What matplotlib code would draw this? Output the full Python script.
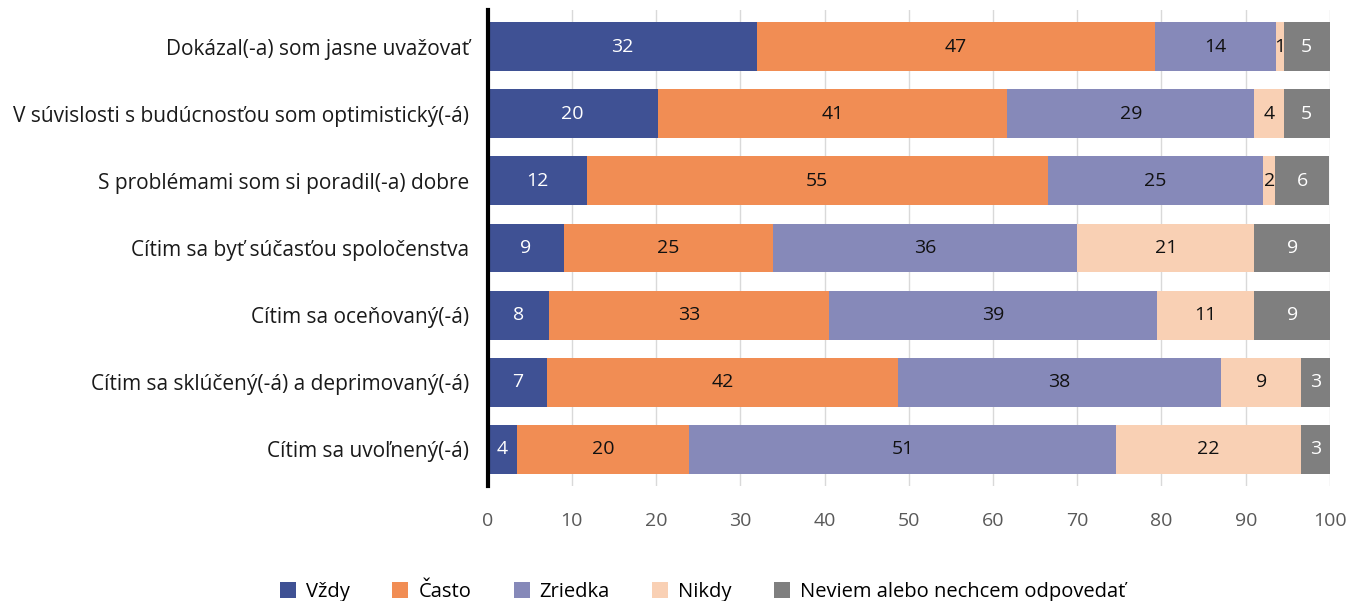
import matplotlib.pyplot as plt
import numpy as np

plt.rcParams['font.family'] = ['Open Sans', 'DejaVu Sans']

# otazky (zhora nadol)
categories = [
    "Dokázal(-a) som jasne uvažovať",
    "V súvislosti s budúcnosťou som optimistický(-á)",
    "S problémami som si poradil(-a) dobre",
    "Cítim sa byť súčasťou spoločenstva",
    "Cítim sa oceňovaný(-á)",
    "Cítim sa sklúčený(-á) a deprimovaný(-á)",
    "Cítim sa uvoľnený(-á)",
]
series_names = ["Vždy", "Často", "Zriedka", "Nikdy", "Neviem alebo nechcem odpovedať"]

# sirky segmentov (odcitane z obrazku, %)
vzdy = [32.0, 20.2, 11.8, 9.1, 7.3, 7.1, 3.5]
casto = [47.2, 41.5, 54.7, 24.8, 33.2, 41.6, 20.4]
zriedka = [14.4, 29.3, 25.6, 36.1, 39.0, 38.4, 50.7]
nikdy = [0.9, 3.5, 1.4, 21.0, 11.5, 9.5, 22.0]
neviem = [5.5, 5.5, 6.4, 9.0, 9.0, 3.4, 3.4]

# cisla zobrazene v stlpcoch
vzdy_lab = [32, 20, 12, 9, 8, 7, 4]
casto_lab = [47, 41, 55, 25, 33, 42, 20]
zriedka_lab = [14, 29, 25, 36, 39, 38, 51]
nikdy_lab = [1, 4, 2, 21, 11, 9, 22]
neviem_lab = [5, 5, 6, 9, 9, 3, 3]

colors = ["#3F5194", "#F18D54", "#8689B9", "#F9D0B4", "#7F7F7F"]
text_colors = ["white", "#111111", "#111111", "#111111", "white"]

values = [vzdy, casto, zriedka, nikdy, neviem]
labels = [vzdy_lab, casto_lab, zriedka_lab, nikdy_lab, neviem_lab]

fig = plt.figure(figsize=(13.49, 6.01), dpi=100)
ax = fig.add_axes([0.3614, 0.1913, 0.6245, 0.7921])

y = np.arange(len(categories))
left = np.zeros(len(categories))
for vals, labs, col, tcol, name in zip(values, labels, colors, text_colors, series_names):
    bars = ax.barh(y, vals, left=left, height=0.73, color=col, label=name, zorder=2)
    for b, lab in zip(bars, labs):
        cx = b.get_x() + b.get_width() / 2
        ax.text(cx, b.get_y() + b.get_height() / 2, str(lab), ha="center", va="center",
                color=tcol, fontsize=14, zorder=3)
    left += np.array(vals)

ax.set_xlim(0, 100)
ax.set_ylim(len(categories) - 0.45, -0.55)
ax.set_yticks(y)
ax.set_yticklabels(categories, fontsize=15, color="#1a1a1a")
ax.set_xticks(np.arange(0, 101, 10))
ax.tick_params(axis="x", length=0, pad=19, labelsize=14, labelcolor="#595959")
ax.tick_params(axis="y", length=0, pad=13)
ax.xaxis.grid(True, color="#D9D9D9", linewidth=1, zorder=0)
ax.set_axisbelow(True)
for s in ["top", "right", "bottom"]:
    ax.spines[s].set_visible(False)
ax.spines["left"].set_linewidth(3)
ax.spines["left"].set_color("black")
ax.spines["left"].set_zorder(4)

fig.legend(loc="lower center", bbox_to_anchor=(0.521, -0.032), ncol=5, frameon=False,
           fontsize=14.5, handlelength=0.8, handleheight=0.8, handletextpad=0.5,
           columnspacing=2.1)

fig.savefig("out.png", dpi=100)
